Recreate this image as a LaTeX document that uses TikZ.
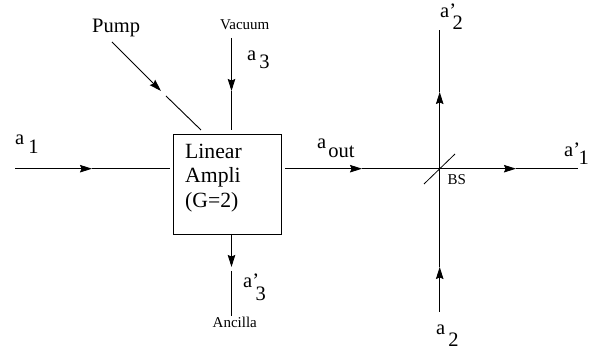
\documentclass[tikz,border=0pt]{standalone}
\usepackage{fontspec}
\setmainfont{Liberation Serif}
\usetikzlibrary{arrows.meta}
\newcommand{\lab}[4]{#1\hspace{#2pt}\raisebox{-#3pt}{#4}}
\tikzset{
  wire/.style={line width=0.9pt,black},
  arr/.style={wire,-{Stealth[length=12pt,width=7.5pt,inset=1.5pt]}},
  big/.style={font=\fontsize{20.5}{22}\selectfont,inner sep=0pt,anchor=base west},
  small/.style={font=\fontsize{15}{16}\selectfont,inner sep=0pt,anchor=base west},
  boxed/.style={draw,line width=1pt,minimum width=108.5pt,minimum height=99.5pt,inner sep=0pt}
}
\begin{document}
\begin{tikzpicture}[x=1pt,y=-1pt]
\useasboundingbox (0,0) rectangle (598,352);
\node[boxed] (box) at (227.5,184.3) {};
\node[inner sep=0pt,align=left,anchor=north west,font=\fontsize{21.7}{24.5}\selectfont] (txt) at (185,143.5) {Linear\\Ampli\\(G=2)};
% labels
\node[big] (pump) at (92,33) {Pump};
\node[small] (vac) at (220,30) {Vacuum};
\node[small] (anc) at (212.5,327.5) {Ancilla};
\node[small] (bs) at (447.5,185) {BS};
\node[big] (la1) at (15,145) {\lab{a}{4}{9}{1}};
\node[big] (la3) at (247,61) {\lab{a}{3}{8}{3}};
\node[big] (lap3) at (243,288) {\lab{a'}{-3.6}{12.7}{3}};
\node[big] (lap1) at (564,157) {\lab{a'}{-1.6}{8}{1}};
\node[big] (lap2) at (440,18) {\lab{a'}{-3.6}{12}{2}};
\node[big] (la2) at (436,335) {\lab{a}{3}{12}{2}};
\node[big] (laout) at (317,149) {\lab{a}{2}{9}{out}};
% coordinates
\coordinate (in) at (15,168.7);
\coordinate (inT) at (92,168.7);
\coordinate (inE) at (170,168.7);
\coordinate (oS) at (285,168.7);
\coordinate (oT) at (362,168.7);
\coordinate (oT2) at (516,168.7);
\coordinate (oE) at (578,168.7);
\coordinate (vS) at (439.7,312);
\coordinate (vT) at (439.7,267);
\coordinate (vT2) at (439.7,92);
\coordinate (vE) at (439.7,30);
\coordinate (bsA) at (424,184);
\coordinate (bsB) at (455,154);
\coordinate (pS) at (112,42);
\coordinate (pT) at (161,91);
\coordinate (pU) at (166,96);
\coordinate (pE) at (201,130);
\coordinate (tS) at (231.5,38);
\coordinate (tT) at (231.5,91);
\coordinate (tE) at (231.5,130);
\coordinate (dS) at (231.5,234);
\coordinate (dT) at (231.5,267);
\coordinate (dU) at (231.5,271);
\coordinate (dE) at (231.5,316);
% wires
\draw[arr] (in) -- (inT);
\draw[wire] (inT) -- (inE);
\draw[arr] (oS) -- (oT);
\draw[arr] (oT) -- (oT2);
\draw[wire] (oT2) -- (oE);
\draw[arr] (vS) -- (vT);
\draw[arr] (vT) -- (vT2);
\draw[wire] (vT2) -- (vE);
\draw[wire,line width=0.8pt] (bsA) -- (bsB);
\draw[arr] (pS) -- (pT);
\draw[wire] (pU) -- (pE);
\draw[arr] (tS) -- (tT);
\draw[wire] (tT) -- (tE);
\draw[arr] (dS) -- (dT);
\draw[wire] (dU) -- (dE);
\end{tikzpicture}
\end{document}
